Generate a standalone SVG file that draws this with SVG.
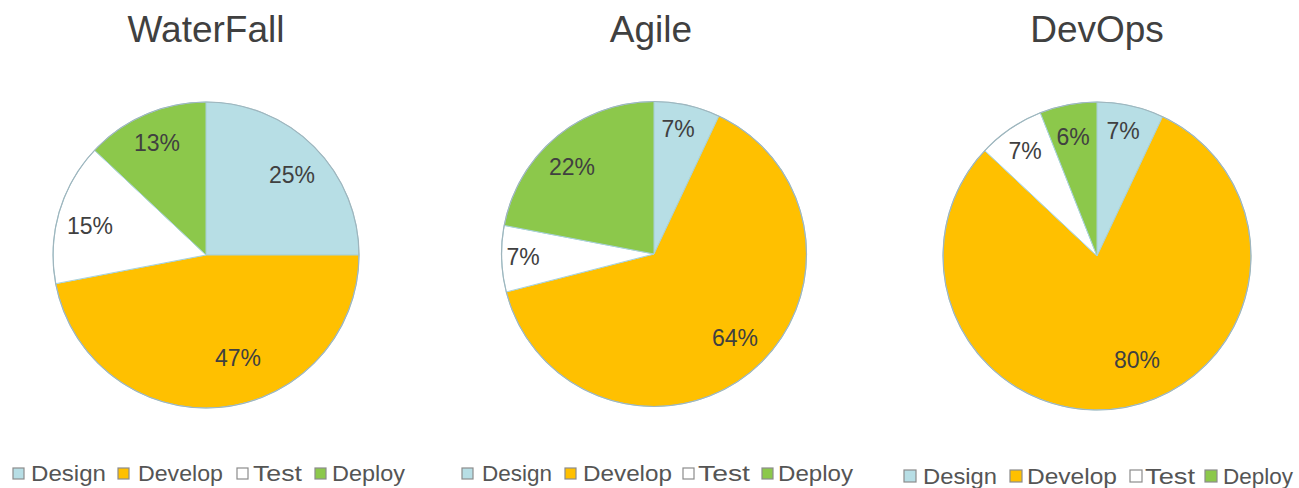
<svg xmlns="http://www.w3.org/2000/svg" width="1299" height="488" viewBox="0 0 1299 488">
<style>
.title{font-family:"Liberation Sans",Arial,sans-serif;font-size:37px;fill:#404040;text-anchor:middle}
.lbl{font-family:"Liberation Sans",Arial,sans-serif;font-size:23px;fill:#404040;text-anchor:middle}
.leg{font-family:"Liberation Sans",Arial,sans-serif;font-size:22.5px;fill:#555555}
.s{stroke:#a9d2da;stroke-width:1;stroke-linejoin:round}
.ring{fill:none;stroke:#9fb5bd;stroke-width:1.2}
.d{fill:#b7dee5}.v{fill:#ffc000}.t{fill:#ffffff}.p{fill:#8cc84b}
.sq{stroke:#8c8c8c;stroke-width:1.2}
</style>
<rect width="1299" height="488" fill="#ffffff"/>

<g id="waterfall">
<text class="title" x="206" y="42">WaterFall</text>
<path class="s d" d="M206,255 L206,102 A153,153 0 0 1 359,255 Z"/>
<path class="s v" d="M206,255 L359,255 A153,153 0 0 1 55.71,283.67 Z"/>
<path class="s t" d="M206,255 L55.71,283.67 A153,153 0 0 1 94.47,150.26 Z"/>
<path class="s p" d="M206,255 L94.47,150.26 A153,153 0 0 1 206,102 Z"/>
<circle class="ring" cx="206" cy="255" r="153"/>
<text class="lbl" x="292" y="183">25%</text>
<text class="lbl" x="238" y="366">47%</text>
<text class="lbl" x="90" y="234">15%</text>
<text class="lbl" x="157" y="151">13%</text>
<g id="legend-waterfall">
<rect class="sq d" x="13" y="468" width="11" height="11"/>
<text class="leg" x="31" y="481" textLength="75" lengthAdjust="spacingAndGlyphs">Design</text>
<rect class="sq v" x="118" y="468" width="11" height="11"/>
<text class="leg" x="138" y="481" textLength="85" lengthAdjust="spacingAndGlyphs">Develop</text>
<rect class="sq t" x="237" y="468" width="11" height="11"/>
<text class="leg" x="253" y="481" textLength="49" lengthAdjust="spacingAndGlyphs">Test</text>
<rect class="sq p" x="315" y="468" width="11" height="11"/>
<text class="leg" x="332" y="481" textLength="73" lengthAdjust="spacingAndGlyphs">Deploy</text>
</g>
</g>

<g id="agile">
<text class="title" x="651" y="42">Agile</text>
<path class="s d" d="M654,254 L654,101.5 A152.5,152.5 0 0 1 718.93,116.01 Z"/>
<path class="s v" d="M654,254 L718.93,116.01 A152.5,152.5 0 1 1 506.29,291.93 Z"/>
<path class="s t" d="M654,254 L506.29,291.93 A152.5,152.5 0 0 1 504.20,225.42 Z"/>
<path class="s p" d="M654,254 L504.20,225.42 A152.5,152.5 0 0 1 654,101.5 Z"/>
<circle class="ring" cx="654" cy="254" r="152.5"/>
<text class="lbl" x="678" y="137">7%</text>
<text class="lbl" x="735" y="346">64%</text>
<text class="lbl" x="523" y="265">7%</text>
<text class="lbl" x="572" y="175">22%</text>
<g id="legend-agile">
<rect class="sq d" x="462" y="468" width="11" height="11"/>
<text class="leg" x="482" y="481" textLength="70" lengthAdjust="spacingAndGlyphs">Design</text>
<rect class="sq v" x="565" y="468" width="11" height="11"/>
<text class="leg" x="583" y="481" textLength="89" lengthAdjust="spacingAndGlyphs">Develop</text>
<rect class="sq t" x="683" y="468" width="11" height="11"/>
<text class="leg" x="698" y="481" textLength="52" lengthAdjust="spacingAndGlyphs">Test</text>
<rect class="sq p" x="762" y="468" width="11" height="11"/>
<text class="leg" x="778" y="481" textLength="75" lengthAdjust="spacingAndGlyphs">Deploy</text>
</g>
</g>

<g id="devops">
<text class="title" x="1097" y="42">DevOps</text>
<path class="s d" d="M1097,256 L1097,102 A154,154 0 0 1 1162.57,116.66 Z"/>
<path class="s v" d="M1097,256 L1162.57,116.66 A154,154 0 1 1 984.74,150.58 Z"/>
<path class="s t" d="M1097,256 L984.74,150.58 A154,154 0 0 1 1040.31,112.81 Z"/>
<path class="s p" d="M1097,256 L1040.31,112.81 A154,154 0 0 1 1097,102 Z"/>
<circle class="ring" cx="1097" cy="256" r="154"/>
<text class="lbl" x="1123" y="139">7%</text>
<text class="lbl" x="1137" y="368">80%</text>
<text class="lbl" x="1025" y="159">7%</text>
<text class="lbl" x="1073" y="145">6%</text>
<g id="legend-devops">
<rect class="sq d" x="904" y="470" width="12" height="12"/>
<text class="leg" x="923" y="484" textLength="74" lengthAdjust="spacingAndGlyphs">Design</text>
<rect class="sq v" x="1010" y="470" width="12" height="12"/>
<text class="leg" x="1027" y="484" textLength="90" lengthAdjust="spacingAndGlyphs">Develop</text>
<rect class="sq t" x="1130" y="470" width="12" height="12"/>
<text class="leg" x="1145" y="484" textLength="50" lengthAdjust="spacingAndGlyphs">Test</text>
<rect class="sq p" x="1205" y="470" width="12" height="12"/>
<text class="leg" x="1223" y="484" textLength="70" lengthAdjust="spacingAndGlyphs">Deploy</text>
</g>
</g>
</svg>
